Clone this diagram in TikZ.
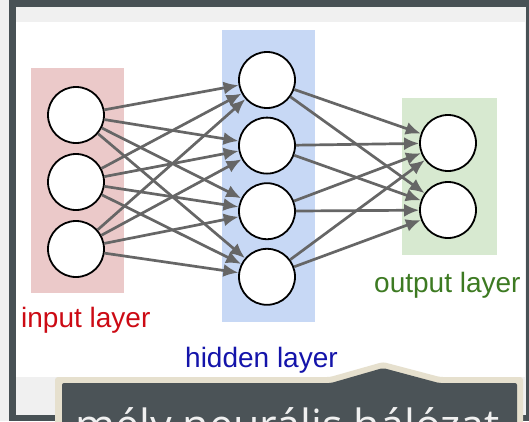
\documentclass[tikz,border=0pt]{standalone}
\usepackage{fontspec}
\setmainfont{Liberation Sans}
\newfontfamily\tipfont{Open Sans}
\usepackage{tikz}
\usetikzlibrary{shapes, arrows.meta, positioning, backgrounds}
\definecolor{framegray}{HTML}{F0F0F0}
\definecolor{framedark}{HTML}{485155}
\definecolor{inpink}{HTML}{EBC9C9}
\definecolor{hidblue}{HTML}{C7D8F5}
\definecolor{outgreen}{HTML}{D7E9D0}
\definecolor{inred}{HTML}{CC0A14}
\definecolor{hidnavy}{HTML}{1414AA}
\definecolor{outolive}{HTML}{3D7A22}
\definecolor{edgegray}{HTML}{666666}
\definecolor{tipbeige}{HTML}{E6E0CE}
\definecolor{tipslate}{HTML}{4B5357}
\tikzstyle{neuron} = [circle, minimum size=56pt, inner sep=0pt, draw=black, line width=1.8pt, fill=white]
\tikzstyle{layerbox} = [rectangle, inner sep=0pt, draw=none]
\tikzstyle{layertext} = [anchor=base west, inner sep=0pt, font=\fontsize{28}{30}\selectfont]
\tikzstyle{arrow} = [-{Latex[length=15pt, width=13pt]}, draw=edgegray, line width=2.7pt]

\begin{document}
\begin{tikzpicture}[x=1pt, y=-1pt, node distance=67pt]

    \useasboundingbox (0,0) rectangle (529,421);

    % screen frame
    \fill [framegray] (0,0) rectangle (529,421);
    \fill [framedark] (9,0) rectangle (529,421);
    \fill [framegray] (16,7) rectangle (526,415);
    \fill [white] (16,22) rectangle (525,377);

    % layer boxes
    \node (inbox) [layerbox, fill=inpink, minimum width=93pt, minimum height=225pt] at (77.5,180.5) {};
    \node (hidbox) [layerbox, fill=hidblue, minimum width=93pt, minimum height=292pt] at (268.5,176) {};
    \node (outbox) [layerbox, fill=outgreen, minimum width=95pt, minimum height=157pt] at (449.5,176.5) {};

    \node (in1) [neuron] at (76,115) {};
    \node (in2) [neuron, below of=in1] {};
    \node (in3) [neuron, below of=in2] {};

    \node (hid1) [neuron] at (267,80) {};
    \node (hid2) [neuron, below of=hid1, node distance=65.6pt] {};
    \node (hid3) [neuron, below of=hid2, node distance=65.6pt] {};
    \node (hid4) [neuron, below of=hid3, node distance=65.6pt] {};

    \node (out1) [neuron] at (448,143) {};
    \node (out2) [neuron, below of=out1] {};

    \draw [arrow] (in1) -- (hid1);
    \draw [arrow] (in1) -- (hid2);
    \draw [arrow] (in1) -- (hid3);
    \draw [arrow] (in1) -- (hid4);
    \draw [arrow] (in2) -- (hid1);
    \draw [arrow] (in2) -- (hid2);
    \draw [arrow] (in2) -- (hid3);
    \draw [arrow] (in2) -- (hid4);
    \draw [arrow] (in3) -- (hid1);
    \draw [arrow] (in3) -- (hid2);
    \draw [arrow] (in3) -- (hid3);
    \draw [arrow] (in3) -- (hid4);

    \draw [arrow] (hid1) -- (out1);
    \draw [arrow] (hid1) -- (out2);
    \draw [arrow] (hid2) -- (out1);
    \draw [arrow] (hid2) -- (out2);
    \draw [arrow] (hid3) -- (out1);
    \draw [arrow] (hid3) -- (out2);
    \draw [arrow] (hid4) -- (out1);
    \draw [arrow] (hid4) -- (out2);

    \node (inlabel) [layertext, text=inred] at (21,327) {input layer};
    \node (hidlabel) [layertext, text=hidnavy] at (185,367) {hidden layer};
    \node (outlabel) [layertext, text=outolive] at (374,292) {output layer};

    % tooltip
    \fill [tipbeige, rounded corners=3pt] (55,377) -- (330,377) -- (383,362) -- (440,377) -- (523,377) -- (523,445) -- (55,445) -- cycle;
    \fill [tipslate, rounded corners=2pt] (62,383) -- (331,383) -- (383,368) -- (439,383) -- (517,383) -- (517,445) -- (62,445) -- cycle;
    \node (tiptext) [anchor=base, inner sep=0pt, text=framegray, font=\tipfont\fontsize{43}{47}\selectfont] at (287.5,440) {mély neurális hálózat};

\end{tikzpicture}
\end{document}
